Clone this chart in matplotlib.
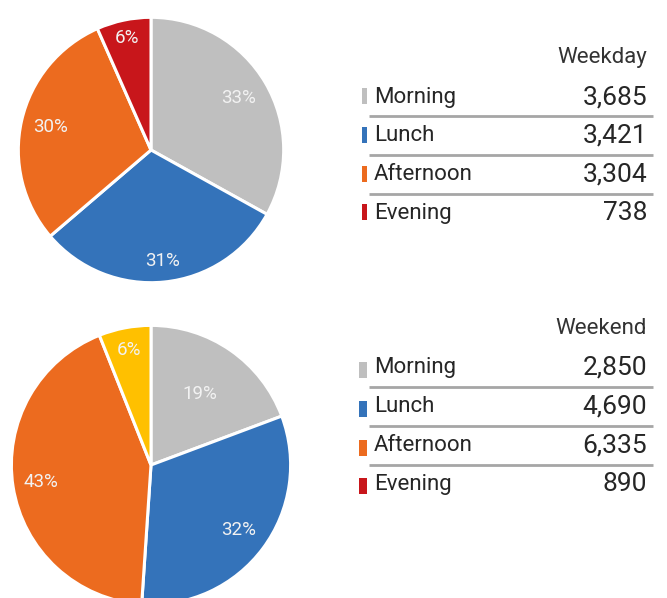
import matplotlib
matplotlib.use("Agg")
import matplotlib.pyplot as plt
import numpy as np
from matplotlib.patches import Rectangle

# data
periods = ["Morning", "Lunch", "Afternoon", "Evening"]
weekday = [3685, 3421, 3304, 738]
weekend = [2850, 4690, 6335, 890]
weekday_pct = ["33%", "31%", "30%", "6%"]
weekend_pct = ["19%", "32%", "43%", "6%"]

weekday_colors = ["#BFBFBF", "#3473BA", "#EC6B1F", "#C8161B"]
weekend_colors = ["#BFBFBF", "#3473BA", "#EC6B1F", "#FFC000"]
legend_colors = ["#BFBFBF", "#3473BA", "#EC6B1F", "#C8161B"]

plt.rcParams["font.family"] = ["Roboto", "DejaVu Sans"]
W, H = 667, 598
fig = plt.figure(figsize=(W / 100, H / 100), dpi=100)


def pie_axes(cx, cy, r):
    # pixel box (top-left origin) -> figure fraction
    return fig.add_axes([(cx - r) / W, (H - cy - r) / H, 2 * r / W, 2 * r / H])


def draw_pie(ax, values, colors, labels, dists):
    wedges, _ = ax.pie(values, colors=colors, startangle=90, counterclock=False,
                       wedgeprops=dict(edgecolor="white", linewidth=2.2))
    # label each wedge, distance from centre as a fraction of the radius
    for w, lab, d in zip(wedges, labels, dists):
        ang = np.deg2rad((w.theta1 + w.theta2) / 2)
        ax.text(d * np.cos(ang), d * np.sin(ang), lab, ha="center", va="center",
                fontsize=13.5, color="#F2F2F2")
    ax.set_xlim(-1.01, 1.01)
    ax.set_ylim(-1.01, 1.01)
    ax.set_aspect("equal")


draw_pie(pie_axes(151, 150, 134), weekday, weekday_colors, weekday_pct,
         [0.77, 0.84, 0.78, 0.86])
draw_pie(pie_axes(151, 465, 141), weekend, weekend_colors, weekend_pct,
         [0.62, 0.78, 0.8, 0.84])

# tables drawn on an overlay axes in pixel coordinates
tab = fig.add_axes([0, 0, 1, 1], zorder=5)
tab.set_xlim(0, W)
tab.set_ylim(H, 0)
tab.axis("off")


def draw_table(title, y0, values, bar_w, bar_dy):
    tab.text(647, y0, title, ha="right", va="center", fontsize=16,
             color="#333333")
    for i, (p, v) in enumerate(zip(periods, values)):
        y = y0 + 40 + i * 38.8
        tab.add_patch(Rectangle((367 - bar_w, y - 9 + bar_dy), bar_w, 16,
                                color=legend_colors[i], lw=0))
        tab.text(374, y, p, ha="left", va="center", fontsize=16,
                 color="#262626")
        tab.text(647, y, f"{v:,}", ha="right", va="center", fontsize=19,
                 color="#262626")
        if i < 3:
            tab.plot([369, 653], [y + 19, y + 19], color="#A6A6A6", lw=2,
                     solid_capstyle="butt")


draw_table("Weekday", 57, weekday, 5, 0)
draw_table("Weekend", 328, weekend, 8, 3)

fig.savefig("out.png", dpi=100)
